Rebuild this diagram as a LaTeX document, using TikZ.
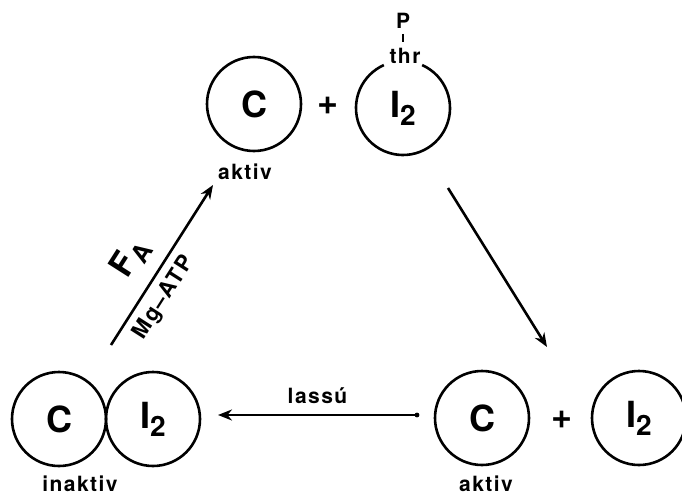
\documentclass[tikz,border=0pt]{standalone}
\usepackage{fontspec}
\setmainfont{TeX Gyre Heros}
\newfontfamily\spaced[LetterSpace=7]{TeX Gyre Heros}
\usetikzlibrary{arrows.meta}
\tikzset{
  mol/.style={circle, draw, line width=2.6pt, minimum size=94pt, inner sep=0pt, font=\fontsize{36}{36}\selectfont\bfseries},
  lbl/.style={inner sep=0pt, font=\spaced\fontsize{21}{21}\selectfont\bfseries},
  plus/.style={inner sep=0pt, font=\fontsize{36}{36}\selectfont\bfseries},
  conn/.style={line width=2.6pt, -{Stealth[length=14pt,width=11pt]}},
}
\newcommand{\Itwo}{I\raisebox{-8pt}{\fontsize{28}{28}\selectfont 2}}
\begin{document}
\begin{tikzpicture}[x=1pt,y=-1pt]
\useasboundingbox (0,0) rectangle (682,495);
% top
\node[mol] (cA) at (254,104) {C};
\node[plus] (plus1) at (328,106) {+};
\coordinate (iPc) at (403,108);
\draw[line width=2.6pt] (iPc) ++(294:47) arc[start angle=294, end angle=606, radius=47];
\node[inner sep=0pt, font=\fontsize{36}{36}\selectfont\bfseries] (iP) at (iPc) {\Itwo};
\node[lbl] (thr) at (405,56) {thr};
\node[lbl] (P) at (403,21) {P};
\coordinate (t1) at (403,34);
\coordinate (t2) at (403,42);
\draw[line width=1.5pt] (t1) -- (t2);
\node[lbl] (ak1) at (245,172) {aktiv};
% bottom left
\node[mol] (cB) at (59,419) {C};
\node[mol] (iB) at (153,419) {\Itwo};
\node[lbl] (inak) at (80,484) {inaktiv};
% bottom right
\node[mol] (cR) at (482,418) {C};
\node[plus] (plus2) at (562,420) {+};
\node[mol] (iR) at (639,418) {\Itwo};
\node[lbl] (ak2) at (486,484) {aktiv};
% arrows
\coordinate (a1s) at (111,345);
\coordinate (a1e) at (213,185);
\draw[conn] (a1s) -- (a1e)
  node[pos=0.44, sloped, above=13pt, inner sep=0pt, font=\fontsize{34}{34}\selectfont\bfseries] (fa) {F\raisebox{-7pt}{\fontsize{25}{25}\selectfont A}}
  node[pos=0.36, sloped, below=8pt, lbl, font=\spaced\fontsize{22}{22}\selectfont\bfseries] (mg) {Mg–ATP};
\coordinate (a2s) at (448,188);
\coordinate (a2e) at (547,347);
\draw[conn] (a2s) -- (a2e);
\coordinate (a3s) at (417,415);
\coordinate (a3e) at (218,415);
\draw[conn] (a3s) -- (a3e) node[midway, above=10pt, lbl] (las) {lassú};
\fill (a3s) circle (2.4pt);
\end{tikzpicture}
\end{document}
